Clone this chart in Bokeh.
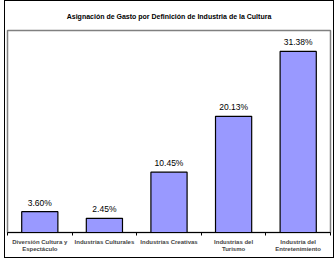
from bokeh.plotting import figure
from bokeh.models import FixedTicker, Range1d, ColumnDataSource, Title
from bokeh.core.properties import value
from bokeh.embed import file_html
from bokeh.resources import INLINE

title = "Asignación de Gasto por Definición de Industria de la Cultura"
categories = ["Diversión Cultura y\nEspectáculo", "Industrias Culturales", "Industrias Creativas",
              "Industrias del\nTurismo", "Industria del\nEntretenimiento"]
values = [3.60, 2.45, 10.45, 20.13, 31.38]
labels = ["3.60%", "2.45%", "10.45%", "20.13%", "31.38%"]

xs = [i + 0.5 for i in range(len(values))]
src = ColumnDataSource(dict(x=xs, top=values, lab=labels))

p = figure(width=330, height=258, output_backend="svg", toolbar_location=None,
           x_range=Range1d(0, 5), y_range=Range1d(0, 35),
           min_border_left=2, min_border_right=5, min_border_top=29, min_border_bottom=27)
p.styles = {"border": "1px solid black", "margin-left": "4px"}
p.title.visible = False

spacer = Title(text=" ", text_font_size="8px", standoff=0)
p.add_layout(spacer, "above")
t = Title(text=title, align="center", text_font="Liberation Sans", text_font_size="7px",
          text_font_style="bold", text_color="black", standoff=0)
p.add_layout(t, "above")

p.vbar(x="x", top="top", width=0.56, source=src, fill_color="#9999FF",
       line_color="black", line_width=1.2)
p.text(x="x", y="top", text="lab", source=src, text_align="center", text_baseline="bottom",
       y_offset=-4, text_font=value("Liberation Sans"), text_font_size="8.5px", text_color="black")

p.yaxis.visible = False
p.xgrid.visible = False
p.ygrid.visible = False
p.outline_line_color = "#808080"
p.outline_line_width = 1.5

ax = p.xaxis[0]
ax.ticker = FixedTicker(ticks=xs, minor_ticks=[0, 1, 2, 3, 4, 5])
ax.major_label_overrides = {x: c for x, c in zip(xs, categories)}
ax.major_tick_out = 0
ax.major_tick_in = 0
ax.minor_tick_out = 3
ax.minor_tick_in = 0
ax.minor_tick_line_color = "black"
ax.axis_line_color = "black"
ax.major_label_text_font = "Liberation Sans"
ax.major_label_text_font_size = "6px"
ax.major_label_text_font_style = "bold"
ax.major_label_standoff = 3

open("out.html", "w").write(file_html(p, INLINE))
